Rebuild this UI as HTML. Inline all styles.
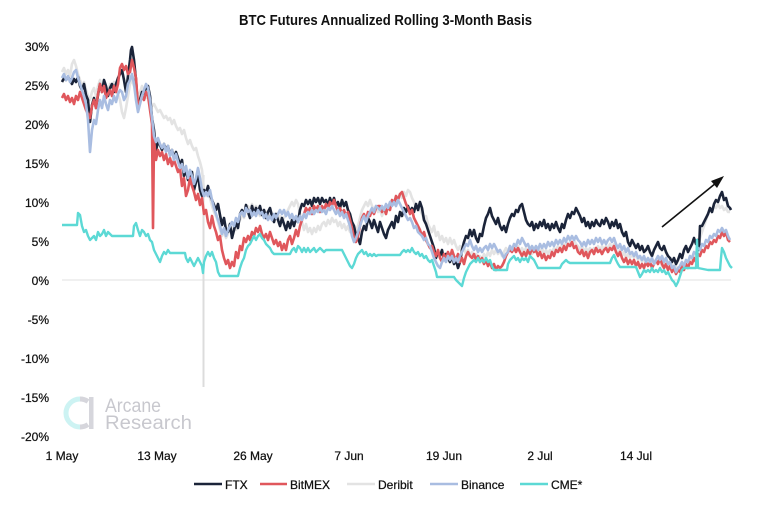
<!DOCTYPE html>
<html><head><meta charset="utf-8"><style>
html,body{margin:0;padding:0;background:#fff;}
svg{display:block;}
text{font-family:"Liberation Sans",sans-serif;}
</style></head><body>
<svg width="775" height="505" viewBox="0 0 775 505" xmlns="http://www.w3.org/2000/svg">
<rect width="775" height="505" fill="#fff"/>
<text x="385.5" y="25" text-anchor="middle" font-size="15" font-weight="bold" fill="#111" textLength="293" lengthAdjust="spacingAndGlyphs">BTC Futures Annualized Rolling 3-Month Basis</text>
<g font-size="12" fill="#111" text-anchor="end" stroke="#111" stroke-width="0.25">
<text x="49" y="51">30%</text>
<text x="49" y="90">25%</text>
<text x="49" y="129">20%</text>
<text x="49" y="168">15%</text>
<text x="49" y="207">10%</text>
<text x="49" y="246">5%</text>
<text x="49" y="285">0%</text>
<text x="49" y="324">-5%</text>
<text x="49" y="363">-10%</text>
<text x="49" y="402">-15%</text>
<text x="49" y="441">-20%</text>
</g>
<g font-size="12" fill="#111" text-anchor="middle" stroke="#111" stroke-width="0.25">
<text x="62" y="460">1 May</text>
<text x="157" y="460">13 May</text>
<text x="253" y="460">26 May</text>
<text x="349" y="460">7 Jun</text>
<text x="444" y="460">19 Jun</text>
<text x="540" y="460">2 Jul</text>
<text x="636" y="460">14 Jul</text>
</g>
<!-- watermark -->
<g>
<path d="M80 399 A14 14 0 0 0 80 427" fill="none" stroke="#cdf3f3" stroke-width="5"/>
<path d="M80 399 A14 14 0 0 1 88 401.5" fill="none" stroke="#d6d6dc" stroke-width="5"/>
<path d="M80 427 A14 14 0 0 0 88 424.5" fill="none" stroke="#d6d6dc" stroke-width="5"/>
<rect x="89" y="397" width="4.5" height="32" fill="#d6d6dc"/>
<text x="105" y="412" font-size="19" fill="#c8c8ce" textLength="56" lengthAdjust="spacingAndGlyphs">Arcane</text>
<text x="105" y="429" font-size="19" fill="#c8c8ce" textLength="87" lengthAdjust="spacingAndGlyphs">Research</text>
</g>
<line x1="62" y1="280" x2="731" y2="280" stroke="#e6e6e6" stroke-width="1.2"/>
<line x1="203.5" y1="175" x2="203.5" y2="387" stroke="#dcdcdc" stroke-width="2"/>
<g fill="none" stroke-width="2.6" stroke-linejoin="round">
<polyline stroke="#e3e3e3" points="62,72 64,68 66,74 68,70 70,76 72,64 74,60 76,66 78,74 80,80 82,86 84,82 86,90 88,96 90,100 92,92 94,88 96,96 98,86 100,80 102,88 104,82 106,90 108,92 110,84 112,90 114,82 116,92 118,94 120,100 122,112 124,118 126,108 128,96 130,84 132,80 134,86 136,88 138,100 140,92 142,86 144,92 146,98 148,96 150,100 152,106 154,104 156,108 158,112 160,110 162,114 164,118 166,116 168,120 170,118 172,124 174,120 176,126 178,130 180,128 182,134 184,130 186,138 188,144 190,140 192,146 194,150 196,148 198,156 200,162 202,170 204,190 206,196 208,194 210,198 212,206 214,212 216,216 218,222 220,230 222,236 224,232 226,238 228,234 230,228 232,232 234,226 236,230 238,224 240,220 242,214 244,218 246,210 248,206 250,210 252,204 254,210 256,206 258,212 260,216 262,210 264,216 266,212 268,218 270,214 272,220 274,216 276,214 278,220 280,216 282,222 284,218 286,214 288,210 290,206 292,202 294,206 296,200 298,204 300,214 302,222 304,230 306,224 308,232 310,228 312,234 314,228 316,232 318,226 320,230 322,224 324,222 326,226 328,220 330,224 332,218 334,222 336,220 338,226 340,222 342,228 344,224 346,230 348,226 350,232 352,228 354,234 356,230 358,226 360,218 362,210 364,206 366,202 368,206 370,200 372,206 374,210 376,206 378,212 380,210 382,216 384,210 386,214 388,206 390,208 392,204 394,200 396,206 398,198 400,194 402,198 404,192 406,196 408,190 410,192 412,198 414,202 416,208 418,204 420,210 422,214 424,220 426,216 428,224 430,228 432,232 434,226 436,236 438,232 440,240 442,236 444,242 446,238 448,244 450,238 452,244 454,240 456,246 458,250 460,246 462,252 464,248 466,254 468,250 470,256 472,252 474,258 476,254 478,258 480,256 482,260 484,254 486,258 488,252 490,256 492,250 494,254 496,250 498,254 500,250 502,256 504,252 506,248 508,252 510,246 512,250 514,246 516,250 518,246 520,252 522,248 524,252 526,248 528,254 530,250 532,254 534,248 536,252 538,248 540,252 542,248 544,254 546,250 548,254 550,250 552,252 554,248 556,250 558,246 560,250 562,244 564,248 566,242 568,246 570,242 572,246 574,240 576,244 578,246 580,250 582,246 584,252 586,248 588,252 590,248 592,252 594,248 596,250 598,246 600,250 602,246 604,250 606,246 608,248 610,244 612,248 614,244 616,250 618,254 620,250 622,256 624,252 626,258 628,254 630,258 632,254 634,258 636,254 638,260 640,256 642,262 644,258 646,262 648,258 650,262 652,258 654,264 656,260 658,264 660,260 662,266 664,262 666,266 668,262 670,268 672,264 674,270 676,266 678,270 680,266 682,262 684,266 686,260 688,264 690,258 692,260 694,254 696,256 698,248 700,238 702,232 704,226 706,220 708,214 710,210 712,212 714,206 716,208 718,204 720,208 722,206 724,210 726,208 728,212 730,212"/>
<polyline stroke="#1b2439" points="62,82 64,78 66,80 68,77 70,80 72,84 74,79 76,82 78,77 80,86 82,90 84,84 86,95 88,100 90,122 92,105 94,98 96,108 98,95 100,84 102,92 104,80 106,86 108,96 110,88 112,84 114,92 116,84 118,78 120,74 122,70 124,80 126,92 128,76 130,60 131,50 132,47 134,60 136,80 138,110 140,100 142,92 144,94 146,88 148,86 150,96 152,118 154,130 156,150 158,142 160,145 162,150 164,144 166,150 168,146 170,155 172,150 174,158 176,152 178,158 180,165 182,160 184,176 186,170 188,180 190,178 192,172 194,190 196,182 198,175 200,190 202,196 204,190 206,193 208,186 210,195 212,200 214,205 216,210 218,204 220,215 222,225 224,218 226,230 228,232 230,224 232,238 234,230 236,222 238,228 240,214 242,210 244,216 246,205 248,212 250,218 252,206 254,214 256,208 258,212 260,206 262,215 264,210 266,218 268,212 270,208 272,216 274,222 276,214 278,220 280,226 282,218 284,224 286,230 288,222 290,228 292,220 294,226 296,218 298,222 300,210 302,204 304,206 306,200 308,204 310,200 312,206 314,198 316,202 318,198 320,204 322,198 324,202 326,200 328,206 330,198 332,204 334,198 336,206 338,202 340,208 342,200 344,206 346,202 348,210 350,214 352,222 354,226 356,236 358,238 360,244 362,232 364,226 366,230 368,218 370,222 372,228 374,220 376,226 378,232 380,222 382,228 384,234 386,238 388,230 390,226 392,222 394,228 396,216 398,222 400,212 402,216 404,208 406,212 408,206 410,212 412,208 414,212 416,204 418,210 420,202 422,208 424,220 426,224 428,230 430,236 432,242 434,248 436,258 438,252 440,256 442,250 444,260 446,254 448,258 450,262 452,256 454,264 456,260 458,268 460,262 462,250 464,242 466,236 468,238 470,230 472,236 474,230 476,238 478,242 480,234 482,236 484,226 486,218 488,214 490,208 492,216 494,220 496,224 498,218 500,226 502,230 504,226 506,232 508,224 510,218 512,214 514,216 516,210 518,212 520,206 522,204 524,212 526,220 528,224 530,226 532,222 534,230 536,224 538,228 540,222 542,226 544,220 546,228 548,224 550,230 552,224 554,228 556,222 558,228 560,232 562,224 564,228 566,220 568,214 570,218 572,212 574,214 576,208 578,212 580,216 582,222 584,218 586,226 588,222 590,228 592,222 594,226 596,220 598,224 600,226 602,220 604,224 606,218 608,222 610,228 612,222 614,226 616,220 618,228 620,224 622,232 624,236 626,232 628,242 630,246 632,240 634,244 636,248 638,244 640,250 642,246 644,252 646,250 648,246 650,252 652,256 654,250 656,246 658,242 660,248 662,250 664,246 666,252 668,256 670,258 672,262 674,258 676,264 678,260 680,254 682,258 684,250 686,246 688,252 690,248 692,244 694,238 696,244 698,240 699,250 700,226 702,226 704,222 706,218 708,214 710,208 712,212 714,204 716,200 718,202 720,196 722,192 724,200 726,198 728,206 730,208 731,210"/>
<polyline stroke="#e0575c" points="62,98 64,94 66,100 68,96 70,102 72,98 74,104 76,96 78,100 80,92 82,98 84,104 86,110 88,114 90,118 92,106 94,100 96,108 98,94 100,84 102,92 104,86 106,98 108,94 110,90 112,96 114,86 116,92 118,84 120,68 122,64 124,70 126,66 128,74 130,72 132,60 134,68 136,78 138,106 140,102 142,96 144,100 146,92 148,96 150,110 152,124 153,228 154,140 156,160 158,150 160,156 162,152 164,160 166,154 168,164 170,158 172,166 174,160 176,166 178,172 180,168 182,186 184,178 186,196 188,190 190,178 192,186 194,192 196,200 198,194 200,205 202,198 204,214 206,210 208,222 210,228 212,216 214,226 216,232 218,240 220,236 222,250 224,258 226,264 228,260 230,268 232,262 234,266 236,252 238,258 240,246 242,250 244,238 246,242 248,236 250,240 252,232 254,236 256,228 258,232 260,226 262,234 264,238 266,234 268,240 270,232 272,238 274,244 276,240 278,246 280,242 282,250 284,244 286,250 288,240 290,236 292,244 294,238 296,230 298,236 300,226 302,220 304,214 306,208 308,212 310,208 312,214 314,206 316,210 318,206 320,212 322,206 324,210 326,204 328,208 330,202 332,206 334,200 336,206 338,212 340,208 342,214 344,210 346,216 348,212 350,220 352,228 354,238 356,242 358,236 360,226 362,218 364,214 366,220 368,212 370,216 372,210 374,214 376,208 378,206 380,206 382,212 384,208 386,214 388,206 390,210 392,200 394,204 396,196 398,200 400,194 402,192 404,198 406,204 408,208 410,214 412,210 414,218 416,222 418,226 420,230 422,236 424,232 426,240 428,244 430,248 432,246 434,252 436,256 438,250 440,258 442,262 444,254 446,260 448,252 450,258 452,250 454,256 456,260 458,254 460,262 462,258 464,264 466,256 468,252 470,256 472,258 474,254 476,260 478,256 480,262 482,258 484,264 486,260 488,266 490,262 492,268 494,264 496,270 498,266 500,268 502,266 504,262 506,256 508,252 510,250 512,252 514,248 516,252 518,248 520,252 522,256 524,252 526,256 528,250 530,254 532,248 534,252 536,250 538,256 540,252 542,258 544,254 546,260 548,256 550,258 552,252 554,256 556,250 558,252 560,248 562,252 564,246 566,250 568,244 570,246 572,242 574,248 576,246 578,252 580,254 582,250 584,256 586,252 588,258 590,252 592,250 594,254 596,248 598,252 600,250 602,254 604,250 606,248 608,252 610,248 612,250 614,246 616,252 618,256 620,252 622,258 624,262 626,258 628,264 630,260 632,264 634,260 636,266 638,262 640,268 642,264 644,268 646,262 648,266 650,262 652,268 654,264 656,260 658,264 660,258 662,264 664,268 666,264 668,270 670,266 672,272 674,268 676,274 678,270 680,272 682,266 684,270 686,264 688,268 690,262 692,264 694,258 696,262 698,254 700,256 702,250 704,252 706,246 708,248 710,242 712,244 714,240 716,242 718,236 720,238 722,232 724,236 726,232 728,240 730,242"/>
<polyline stroke="#a9bde1" points="62,78 64,74 66,80 68,76 70,82 72,78 74,72 76,70 78,78 80,84 82,90 84,96 86,104 88,120 90,152 92,130 94,120 96,124 98,110 100,100 102,108 104,96 106,104 108,110 110,100 112,104 114,96 116,102 118,94 120,90 122,92 124,100 126,96 128,84 130,80 132,74 134,84 136,100 138,112 140,104 142,96 144,90 146,84 148,88 150,100 152,118 154,136 156,142 158,138 160,144 162,148 164,144 166,152 168,146 170,156 172,150 174,160 176,154 178,162 180,168 182,164 184,172 186,166 188,178 190,170 192,176 194,184 196,178 198,168 200,178 202,190 204,196 206,192 208,196 210,190 212,200 214,208 216,214 218,220 220,226 222,234 224,228 226,236 228,230 230,226 232,222 234,226 236,218 238,222 240,214 242,212 244,216 246,208 248,212 250,210 252,216 254,212 256,216 258,210 260,214 262,212 264,218 266,214 268,220 270,216 272,220 274,214 276,218 278,214 280,210 282,214 284,210 286,216 288,212 290,218 292,214 294,220 296,216 298,222 300,216 302,220 304,214 306,218 308,212 310,214 312,210 314,214 316,210 318,212 320,208 322,212 324,210 326,214 328,208 330,210 332,206 334,210 336,214 338,210 340,216 342,212 344,218 346,214 348,220 350,226 352,236 354,242 356,238 358,232 360,226 362,220 364,216 366,222 368,216 370,212 372,208 374,212 376,206 378,208 380,210 382,206 384,210 386,204 388,208 390,202 392,206 394,202 396,206 398,200 400,204 402,208 404,212 406,216 408,220 410,218 412,222 414,228 416,226 418,232 420,234 422,236 424,240 426,238 428,244 430,246 432,252 434,258 436,262 438,266 440,268 442,262 444,258 446,262 448,256 450,260 452,256 454,262 456,258 458,262 460,256 462,252 464,248 466,244 468,246 470,240 472,246 474,250 476,246 478,252 480,248 482,252 484,248 486,246 488,250 490,244 492,248 494,244 496,248 498,252 500,250 502,254 504,258 506,254 508,252 510,246 512,250 514,244 516,246 518,240 520,244 522,238 524,242 526,246 528,244 530,250 532,246 534,250 536,246 538,250 540,244 542,248 544,244 546,248 548,242 550,246 552,242 554,246 556,240 558,244 560,240 562,244 564,238 566,242 568,236 570,240 572,236 574,240 576,236 578,240 580,242 582,246 584,242 586,246 588,240 590,244 592,240 594,244 596,238 598,242 600,238 602,244 604,240 606,244 608,240 610,238 612,242 614,238 616,244 618,248 620,244 622,250 624,246 626,252 628,248 630,254 632,252 634,256 636,252 638,258 640,256 642,260 644,256 646,262 648,258 650,262 652,258 654,264 656,260 658,256 660,260 662,256 664,262 666,258 668,264 670,262 672,268 674,266 676,272 678,268 680,266 682,262 684,266 686,260 688,262 690,256 692,258 694,252 696,254 698,248 700,250 702,244 704,246 706,240 708,242 710,236 712,238 714,234 716,236 718,230 720,232 722,228 724,232 726,230 728,236 730,240"/>
<polyline stroke="#5cd9d5" stroke-width="2.4" points="62,225 77,225 78,213 80,215 82,226 84,232 86,230 88,236 90,240 92,238 94,236 96,240 98,232 100,236 102,234 104,230 106,236 108,232 110,234 112,236 114,236 133,236 134,226 136,223 138,230 140,236 142,230 144,232 146,236 148,234 150,240 152,242 154,250 156,254 158,258 160,262 162,256 164,252 166,254 168,250 170,253 185,253 186,258 188,262 190,258 192,262 194,266 196,262 198,258 200,262 202,266 203,273 204,262 206,256 208,252 210,256 212,252 214,258 216,262 218,272 220,276 238,276 240,268 242,262 244,258 246,250 248,246 250,244 252,240 254,236 256,240 258,236 260,234 262,238 264,240 266,244 268,246 270,248 272,252 274,254 290,254 292,250 294,248 296,252 298,246 300,248 302,252 304,248 306,252 308,248 310,252 312,250 314,248 316,252 318,250 320,248 322,250 324,252 326,250 342,250 344,254 346,258 348,262 350,266 352,268 354,264 356,258 358,254 360,252 362,250 364,254 366,252 368,256 370,254 372,256 374,254 376,256 378,255 400,255 402,252 404,250 406,252 408,250 410,252 412,248 414,252 416,254 418,252 420,256 422,254 424,258 426,256 428,260 430,262 432,260 434,266 436,272 437,277 454,277 456,280 458,282 460,284 462,286 464,278 466,272 468,268 470,264 472,262 474,260 476,262 478,258 480,262 482,260 484,262 486,258 488,262 490,260 492,266 494,270 507,270 508,264 510,260 512,258 514,256 516,260 518,258 520,262 522,258 524,260 526,258 528,262 530,256 532,258 534,260 536,264 538,268 540,268 560,268 562,264 564,262 566,260 568,262 570,263 610,263 612,258 614,255 616,260 618,264 620,267 636,267 638,272 640,277 642,274 644,270 646,272 648,270 650,272 652,268 654,272 656,270 658,272 660,268 662,272 664,270 666,274 668,272 670,276 672,280 674,282 676,286 678,282 680,276 682,270 684,268 696,268 697,240 698,268 708,270 720,270 721,258 722,248 724,252 726,258 728,262 730,266 732,268"/>
</g>
<!-- arrow -->
<line x1="662" y1="227" x2="716" y2="183" stroke="#111" stroke-width="1.6"/>
<polygon points="724,176 711,181 717,188" fill="#111"/>
<!-- legend -->
<g stroke-width="2.5">
<line x1="194" y1="484" x2="222" y2="484" stroke="#1b2439"/>
<line x1="260" y1="484" x2="287" y2="484" stroke="#e0575c"/>
<line x1="347" y1="484" x2="375" y2="484" stroke="#e3e3e3"/>
<line x1="430" y1="484" x2="458" y2="484" stroke="#a9bde1"/>
<line x1="520" y1="484" x2="548" y2="484" stroke="#5cd9d5"/>
</g>
<g font-size="12" fill="#111" stroke="#111" stroke-width="0.25">
<text x="225" y="489">FTX</text>
<text x="290" y="489">BitMEX</text>
<text x="378" y="489">Deribit</text>
<text x="461" y="489">Binance</text>
<text x="551" y="489">CME*</text>
</g>
</svg>
</body></html>
